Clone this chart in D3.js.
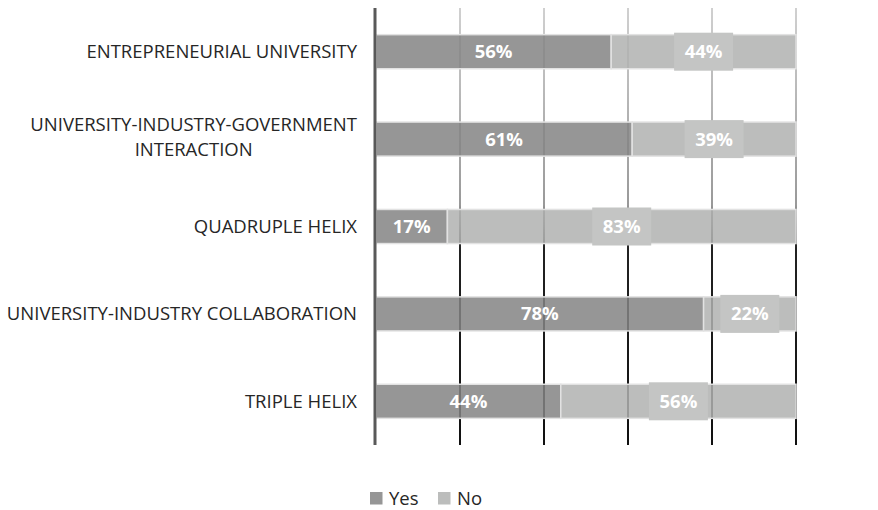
<!DOCTYPE html>
<html><head><meta charset="utf-8">
<script src="https://cdn.jsdelivr.net/npm/d3@7"></script>
<style>body{margin:0;background:#fff}</style>
</head><body>
<svg id="c" width="878" height="510"></svg>
<script>
const categories = ["ENTREPRENEURIAL UNIVERSITY", "UNIVERSITY-INDUSTRY-GOVERNMENT\nINTERACTION", "QUADRUPLE HELIX", "UNIVERSITY-INDUSTRY COLLABORATION", "TRIPLE HELIX"];
const yesValues = [56, 61, 17, 78, 44];
const noValues = [44, 39, 83, 22, 56];
const seriesNames = ["Yes", "No"];
const xTicks = [0, 20, 40, 60, 80, 100];

const svg = d3.select("#c");
const font = "'Open Sans', sans-serif";
const m = {left: 376, right: 82, top: 8, bottom: 65};
const W = 878, H = 510;
const x = d3.scaleLinear().domain([0, 100]).range([m.left, W - m.right]);
const y = d3.scaleBand().domain(categories).range([m.top, H - m.bottom]).paddingInner(0.61).paddingOuter(0.305);

const defs = svg.append("defs");
const g = defs.append("linearGradient").attr("id", "gg").attr("gradientUnits", "userSpaceOnUse")
  .attr("x1", 0).attr("x2", 0).attr("y1", m.top).attr("y2", H - m.bottom);
g.append("stop").attr("offset", "0").attr("stop-color", "#d0d0d0");
g.append("stop").attr("offset", "0.45").attr("stop-color", "#999");
g.append("stop").attr("offset", "0.55").attr("stop-color", "#222");
g.append("stop").attr("offset", "1").attr("stop-color", "#111");

svg.append("g").selectAll("line").data(xTicks.slice(1)).join("line")
  .attr("x1", d => x(d)).attr("x2", d => x(d))
  .attr("y1", m.top).attr("y2", H - m.bottom)
  .attr("stroke", "url(#gg)").attr("stroke-width", 2);

const rows = categories.map((c, i) => ({c, yes: yesValues[i], no: noValues[i]}));

const bars = svg.append("g");
rows.forEach(r => {
  bars.append("rect").attr("x", x(0)).attr("y", y(r.c)).attr("width", x(r.yes) - x(0)).attr("height", y.bandwidth())
    .attr("fill", "#848484").attr("fill-opacity", 0.85).attr("stroke", "#e2e2e2").attr("stroke-width", 1.5);
  bars.append("rect").attr("x", x(r.yes)).attr("y", y(r.c)).attr("width", x(100) - x(r.yes)).attr("height", y.bandwidth())
    .attr("fill", "#b0b1b0").attr("fill-opacity", 0.85).attr("stroke", "#e2e2e2").attr("stroke-width", 1.5);
});

const lab = svg.append("g").attr("font-family", font).attr("font-weight", "bold").attr("font-size", 18.5).attr("fill", "#fff");
rows.forEach(r => {
  const cy = y(r.c) + y.bandwidth() / 2;
  lab.append("text").attr("x", (x(0) + x(r.yes)) / 2).attr("y", cy).attr("dy", "0.35em").attr("text-anchor", "middle").text(r.yes + "%");
  const nx = (x(r.yes) + x(100)) / 2;
  lab.append("rect").attr("x", nx - 29.5).attr("y", cy - 19).attr("width", 59).attr("height", 38).attr("fill", "#c4c5c4");
  lab.append("text").attr("x", nx).attr("y", cy).attr("dy", "0.35em").attr("text-anchor", "middle").text(r.no + "%");
});

// axis line
svg.append("line").attr("x1", x(0) - 1).attr("x2", x(0) - 1).attr("y1", m.top).attr("y2", H - m.bottom)
  .attr("stroke", "#595959").attr("stroke-width", 3);

// category labels
const cl = svg.append("g").attr("font-family", font).attr("font-size", 18.5).attr("fill", "#262626");
rows.forEach(r => {
  const lines = r.c.split("\n");
  const cy = y(r.c) + y.bandwidth() / 2;
  if (lines.length === 1) {
    cl.append("text").attr("text-anchor", "end").attr("x", 357).attr("y", cy).attr("dy", "0.35em").text(lines[0]);
  } else {
    const tmp = cl.append("text").text(lines[0]);
    const w0 = tmp.node().getComputedTextLength();
    tmp.remove();
    const cx = 357 - w0 / 2;
    lines.forEach((ln, k) => {
      cl.append("text").attr("text-anchor", "middle").attr("x", cx)
        .attr("y", cy - 2 + (k - (lines.length - 1) / 2) * 25).attr("dy", "0.35em").text(ln);
    });
  }
});

// legend
const lg = svg.append("g").attr("font-family", font).attr("font-size", 18.5).attr("fill", "#262626");
const legX = [370, 438];
seriesNames.forEach((s, i) => {
  lg.append("rect").attr("x", legX[i]).attr("y", 492).attr("width", 12.5).attr("height", 12.5).attr("fill", i === 0 ? "#969696" : "#bcbdbc");
  lg.append("text").attr("x", legX[i] + 19).attr("y", 498.5).attr("dy", "0.35em").text(s);
});
</script>
</body></html>
